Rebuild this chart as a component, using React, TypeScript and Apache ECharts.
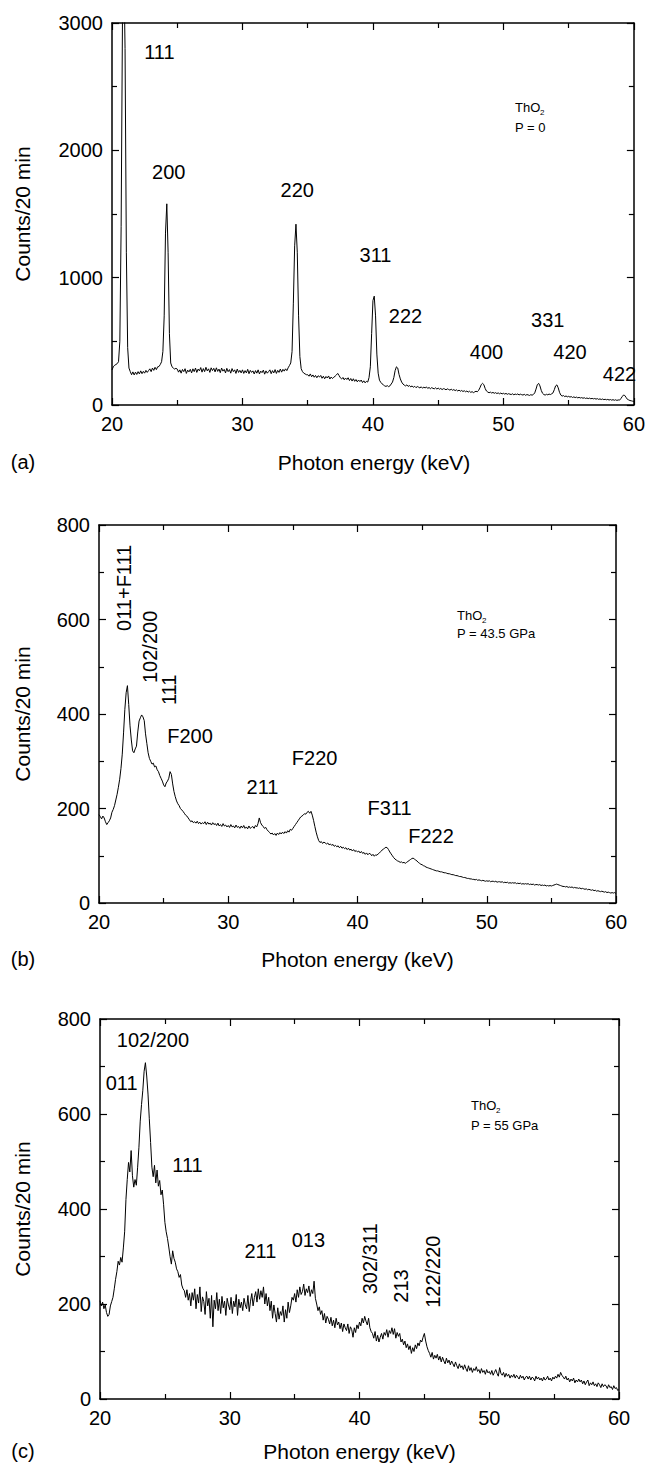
import React, { useEffect, useRef } from "react";
import * as echarts from "echarts";

const X_START = 20;
const X_STEP = 0.1;

// Panel (a): ThO2, P = 0 — counts every 0.1 keV from 20 to 60 keV
const countsA = [
  275, 300, 312, 318, 325, 340, 500, 1400, 3000, 3500,
  2800, 1200, 450, 290, 262, 238, 260, 236, 258, 240,
  262, 244, 268, 246, 264, 250, 272, 256, 270, 284,
  262, 290, 272, 296, 278, 300, 302, 318, 340, 420,
  700, 1350, 1580, 1200, 560, 330, 300, 290, 282, 288,
  282, 258, 276, 250, 279, 262, 285, 248, 274, 260,
  280, 252, 284, 262, 290, 256, 282, 268, 294, 258,
  286, 262, 296, 268, 284, 256, 292, 270, 288, 260,
  292, 264, 282, 254, 290, 266, 280, 252, 288, 262,
  278, 250, 286, 262, 276, 248, 282, 256, 272, 252,
  276, 248, 270, 252, 280, 246, 272, 256, 268, 244,
  270, 250, 276, 244, 266, 254, 274, 242, 268, 250,
  262, 276, 246, 270, 252, 278, 248, 272, 256, 282,
  258, 280, 266, 284, 270, 292, 310, 330, 420, 800,
  1250, 1420, 1200, 700, 380, 285, 262, 250, 244, 238,
  238, 226, 244, 222, 236, 218, 232, 214, 230, 220,
  232, 210, 226, 206, 224, 212, 228, 204, 220, 208,
  218, 226, 236, 248, 232, 214, 204, 216, 198, 212,
  200, 214, 192, 208, 188, 206, 186, 200, 182, 196,
  184, 196, 176, 190, 174, 186, 180, 215, 300, 560,
  820, 855, 700, 400, 250, 195, 178, 166, 158, 150,
  146, 152, 144, 150, 165, 180, 215, 270, 300, 290,
  240, 205, 180, 165, 156, 150, 158, 146, 153, 142,
  150, 139, 147, 136, 145, 140, 134, 143, 132, 140,
  134, 142, 130, 138, 128, 136, 131, 127, 135, 125,
  133, 124, 130, 121, 128, 126, 119, 127, 122, 117,
  124, 116, 121, 113, 119, 110, 117, 108, 114, 106,
  112, 104, 110, 101, 108, 99, 105, 97, 103, 108,
  104, 115, 135, 160, 170, 160, 130, 110, 102, 96,
  101, 94, 99, 92, 97, 90, 95, 88, 94, 87,
  92, 86, 91, 84, 89, 85, 82, 88, 80, 86,
  82, 87, 79, 85, 81, 78, 84, 76, 82, 79,
  75, 81, 77, 83, 95, 125, 160, 170, 150, 115,
  92, 82, 78, 84, 80, 86, 82, 88, 95, 120,
  150, 158, 135, 100, 78, 70, 74, 66, 71, 64,
  68, 62, 66, 59, 64, 58, 62, 56, 60, 55,
  58, 53, 57, 51, 55, 50, 54, 49, 52, 48,
  51, 46, 50, 44, 48, 43, 47, 42, 45, 41,
  44, 39, 43, 38, 42, 37, 41, 36, 40, 38,
  50, 65, 78, 75, 60, 45, 40, 35, 33, 30,
  28,
];

// Panel (b): ThO2, P = 43.5 GPa
const countsB = [
  187, 183, 178, 184, 180, 172, 166, 170, 174, 180,
  192, 198, 206, 218, 230, 245, 262, 285, 315, 360,
  410, 445, 460, 420, 375, 345, 322, 318, 326, 332,
  362, 385, 392, 398, 394, 386, 358, 338, 318, 306,
  300, 294, 296, 288, 290, 282, 278, 270, 264, 258,
  250, 246, 254, 258, 264, 278, 272, 252, 236, 225,
  216, 210, 206, 200, 197, 194, 190, 186, 184, 180,
  176, 172, 174, 170, 172, 169, 173, 168, 171, 167,
  170, 168, 172, 166, 171, 167, 169, 165, 170, 166,
  168, 164, 169, 163, 166, 162, 168, 163, 165, 161,
  164, 160, 166, 161, 163, 159, 165, 160, 162, 158,
  163, 159, 164, 158, 161, 157, 163, 158, 160, 162,
  158, 164, 161, 168, 180, 170, 165, 162, 158, 160,
  155, 152, 149, 146, 148, 144, 147, 143, 148, 145,
  149, 146, 150, 147, 151, 148, 153, 150, 156, 154,
  158, 162, 166, 170, 174, 178, 182, 184, 186, 189,
  188, 192, 194, 190, 194, 186, 175, 162, 150, 140,
  132, 128, 130, 126, 129, 127, 125, 127, 123, 125,
  122, 124, 120, 122, 119, 121, 117, 120, 116, 118,
  115, 117, 113, 116, 112, 114, 110, 113, 109, 111,
  108, 110, 106, 109, 105, 107, 103, 106, 102, 105,
  104, 100, 103, 99, 102, 101, 104, 106, 109, 112,
  114, 116, 118, 117, 113, 108, 104, 100, 96, 93,
  91, 89, 88, 86, 87, 85, 86, 84, 86, 88,
  90, 92, 94, 95, 93, 91, 89, 86, 84, 82,
  81, 79, 78, 76, 75, 74, 73, 72, 71, 70,
  69, 68, 68, 67, 66, 66, 65, 64, 64, 63,
  62, 62, 61, 60, 60, 59, 58, 58, 57, 56,
  56, 55, 54, 54, 53, 52, 52, 51, 51, 50,
  50, 49, 50, 48, 49, 48, 47, 48, 47, 46,
  47, 46, 47, 45, 46, 46, 45, 46, 44, 45,
  45, 44, 45, 43, 44, 43, 44, 42, 43, 42,
  43, 42, 43, 41, 42, 41, 42, 40, 41, 40,
  41, 40, 41, 39, 40, 39, 40, 38, 39, 39,
  38, 39, 37, 38, 37, 38, 36, 37, 36, 37,
  36, 37, 38, 39, 40, 39, 38, 37, 36, 35,
  35, 34, 35, 33, 34, 33, 34, 32, 33, 32,
  32, 31, 32, 30, 31, 30, 29, 30, 28, 29,
  28, 27, 28, 26, 27, 25, 26, 25, 24, 25,
  24, 23, 24, 22, 23, 22, 21, 22, 21, 22,
  20,
];

// Panel (c): ThO2, P = 55 GPa
const countsC = [
  207, 196, 204, 190, 198, 182, 174, 178, 196, 205,
  214, 232, 252, 268, 290, 282, 298, 288, 318, 352,
  420, 462, 498, 478, 523, 470, 446, 462, 450, 488,
  530, 585, 620, 650, 690, 708, 680, 642, 590, 540,
  488, 468, 492, 455, 482, 448, 460, 430, 440, 410,
  372, 352, 338, 320, 300, 284, 312, 296, 288, 274,
  268, 256, 262, 240, 232, 228, 214, 230, 208, 222,
  196, 224, 208, 232, 190, 220, 202, 236, 184, 215,
  205, 178, 226, 196, 212, 170, 218, 152, 208, 190,
  224, 186, 210, 180, 216, 192, 206, 176, 212, 198,
  188, 214, 180, 206, 194, 220, 176, 210, 192, 204,
  186, 212, 198, 190, 218, 184, 206, 222, 196, 214,
  226, 204, 232, 210, 228, 214, 236, 200, 222, 196,
  214, 186, 206, 170, 198, 180, 162, 192, 168, 184,
  176, 196, 162, 188, 170, 204, 182, 196, 214, 208,
  222, 204, 230, 214, 236, 220, 226, 242, 218, 232,
  224, 238, 216, 230, 222, 248, 212, 200, 186, 194,
  178, 186, 166, 180, 160, 174, 168, 158, 172, 154,
  166, 150, 170, 156, 162, 148, 160, 142, 158, 150,
  144, 158, 138, 152, 146, 130, 150, 140, 156, 148,
  162, 154, 170, 160, 174, 164, 156, 170, 150, 142,
  138, 128, 142, 122, 134, 120, 130, 138, 126, 140,
  134, 146, 130, 144, 138, 150, 136, 148, 128, 140,
  132, 138, 120, 126, 114, 122, 108, 116, 104, 112,
  96, 108, 100, 114, 106, 118, 112, 124, 120, 130,
  138, 122, 110, 102, 96, 88, 98, 84, 92, 86,
  94, 82, 90, 78, 88, 80, 74, 86, 76, 82,
  72, 80, 74, 68, 78, 70, 64, 74, 66, 70,
  62, 72, 64, 58, 70, 60, 66, 56, 64, 60,
  68, 58, 62, 54, 64, 56, 60, 52, 62, 55,
  58, 52, 60, 50, 56, 62, 54, 48, 66, 54,
  50, 56, 46, 54, 48, 52, 44, 50, 46, 52,
  44, 50, 46, 42, 50, 44, 48, 40, 46, 48,
  42, 48, 40, 46, 44, 38, 48, 42, 46, 40,
  44, 38, 46, 40, 42, 48, 40, 44, 38, 46,
  42, 48, 44, 52, 46, 56, 50, 46, 42, 48,
  40, 44, 36, 42, 38, 44, 34, 40, 36, 42,
  36, 40, 32, 38, 30, 36, 40, 28, 34, 30,
  36, 28, 32, 26, 34, 30, 24, 32, 26, 30,
  28, 22, 30, 24, 26, 20, 28, 22, 24, 18,
  20,
];

// Peak labels: [energy keV, counts, text, rotation deg]
const labelsA: [number, number, string, number][] = [
  [23.63, 2775, "111", 0],
  [24.35, 1830, "200", 0],
  [34.2, 1688, "220", 0],
  [40.2, 1178, "311", 0],
  [42.5, 699, "222", 0],
  [48.7, 416, "400", 0],
  [53.4, 667, "331", 0],
  [55.1, 416, "420", 0],
  [58.9, 243, "422", 0],
];
const labelsB: [number, number, string, number][] = [
  [21.93, 667, "011+F111", 90],
  [23.95, 542, "102/200", 90],
  [25.4, 451, "111", 90],
  [27.04, 353, "F200", 0],
  [32.65, 245, "211", 0],
  [36.68, 307, "F220", 0],
  [42.48, 201, "F311", 0],
  [45.69, 142, "F222", 0],
];
const labelsC: [number, number, string, number][] = [
  [24.08, 756, "102/200", 0],
  [21.67, 665, "011", 0],
  [26.74, 493, "111", 0],
  [32.36, 312, "211", 0],
  [36.06, 335, "013", 0],
  [40.81, 295, "302/311", 90],
  [43.2, 238, "213", 90],
  [45.69, 268, "122/220", 90],
];

const panelLetters = ["(a)", "(b)", "(c)"];
const pressures = ["P = 0", "P = 43.5 GPa", "P = 55 GPa"];
const yMaxes = [3000, 800, 800];
const yIntervals = [1000, 200, 200];
const X_MIN = 20;
const X_MAX = 60;
const X_INTERVAL = 10;
const X_TITLE = "Photon energy (keV)";
const Y_TITLE = "Counts/20 min";

// layout (pixels)
const grids = [
  { left: 112, top: 23, width: 524, height: 382 },
  { left: 99, top: 525, width: 517, height: 378 },
  { left: 100, top: 1019, width: 519, height: 380 },
];
const titleOffsets = [57, 56, 52];
const sampleAnno = [
  { x: 515, y1: 107, y2: 127 },
  { x: 457, y1: 615, y2: 633 },
  { x: 471, y1: 1105, y2: 1125 },
];

const FONT = '"Liberation Sans", Arial, Helvetica, sans-serif';

const toPairs = (arr: number[]) =>
  arr.map((v, i) => [Number((X_START + i * X_STEP).toFixed(2)), v]);

export default function App() {
  const ref = useRef<HTMLDivElement>(null);

  useEffect(() => {
    if (!ref.current) return;
    const chart = echarts.init(ref.current, undefined, { renderer: "svg" });
    const counts = [countsA, countsB, countsC];
    const labels = [labelsA, labelsB, labelsC];

    const tickLine = { color: "#000", width: 1.2 };
    const axisLine = { show: true, onZero: false, lineStyle: { color: "#000", width: 1.5 } };

    const xAxis: any[] = [];
    const yAxis: any[] = [];
    const series: any[] = [];
    const graphic: any[] = [];

    grids.forEach((g, gi) => {
      [false, true].forEach((isTop) => {
        xAxis.push({
          type: "value",
          gridIndex: gi,
          position: isTop ? "top" : "bottom",
          min: X_MIN,
          max: X_MAX,
          interval: X_INTERVAL,
          axisLine,
          axisTick: { show: true, inside: true, length: 7, lineStyle: tickLine },
          minorTick: { show: true, splitNumber: 2, length: 5, lineStyle: tickLine },
          splitLine: { show: false },
          minorSplitLine: { show: false },
          axisLabel: {
            show: !isTop,
            color: "#000",
            fontSize: 20,
            fontFamily: FONT,
            margin: 9,
            formatter: (v: number) => String(v),
          },
        });
        yAxis.push({
          type: "value",
          gridIndex: gi,
          position: isTop ? "right" : "left",
          min: 0,
          max: yMaxes[gi],
          interval: yIntervals[gi],
          axisLine,
          axisTick: { show: true, inside: true, length: 7, lineStyle: tickLine },
          minorTick: { show: true, splitNumber: 2, length: 5, lineStyle: tickLine },
          splitLine: { show: false },
          minorSplitLine: { show: false },
          axisLabel: {
            show: !isTop,
            color: "#000",
            fontSize: 20,
            fontFamily: FONT,
            margin: 9,
            formatter: (v: number) => String(v),
          },
        });
      });

      series.push({
        type: "line",
        xAxisIndex: gi * 2,
        yAxisIndex: gi * 2,
        data: toPairs(counts[gi]),
        showSymbol: false,
        symbol: "none",
        clip: true,
        lineStyle: { color: "#000", width: 1 },
        silent: true,
      });

      series.push({
        type: "scatter",
        xAxisIndex: gi * 2,
        yAxisIndex: gi * 2,
        symbolSize: 1,
        itemStyle: { color: "rgba(255,255,255,0)" },
        silent: true,
        clip: false,
        data: labels[gi].map(([x, y, t, r]) => ({
          value: [x, y],
          label: {
            show: true,
            formatter: t,
            rotate: r,
            position: "inside",
            align: "center",
            verticalAlign: "middle",
            color: "#000",
            opacity: 1,
            textBorderWidth: 0,
            textBorderColor: "transparent",
            fontSize: 20,
            fontFamily: FONT,
          },
        })),
      });

      const cx = g.left + g.width / 2;
      const cy = g.top + g.height / 2;
      const bottom = g.top + g.height;

      graphic.push({
        type: "text",
        x: 22,
        y: cy,
        rotation: Math.PI / 2,
        style: {
          text: Y_TITLE,
          fontSize: 21,
          fontFamily: FONT,
          fill: "#000",
          align: "center",
          verticalAlign: "middle",
        },
      });
      graphic.push({
        type: "text",
        x: cx,
        y: bottom + titleOffsets[gi],
        style: {
          text: X_TITLE,
          fontSize: 21,
          fontFamily: FONT,
          fill: "#000",
          align: "center",
          verticalAlign: "middle",
        },
      });
      graphic.push({
        type: "text",
        x: 23,
        y: bottom + titleOffsets[gi],
        style: {
          text: panelLetters[gi],
          fontSize: 20,
          fontFamily: FONT,
          fill: "#000",
          align: "center",
          verticalAlign: "middle",
        },
      });
      const a = sampleAnno[gi];
      graphic.push({
        type: "text",
        x: a.x,
        y: a.y1,
        style: {
          text: "ThO",
          fontSize: 13,
          fontFamily: FONT,
          fill: "#000",
          align: "left",
          verticalAlign: "middle",
        },
      });
      graphic.push({
        type: "text",
        x: a.x + 25,
        y: a.y1 + 5,
        style: {
          text: "2",
          fontSize: 8,
          fontFamily: FONT,
          fill: "#000",
          align: "left",
          verticalAlign: "middle",
        },
      });
      graphic.push({
        type: "text",
        x: a.x,
        y: a.y2,
        style: {
          text: pressures[gi],
          fontSize: 13,
          fontFamily: FONT,
          fill: "#000",
          align: "left",
          verticalAlign: "middle",
        },
      });
    });

    chart.setOption({
      animation: false,
      backgroundColor: "#fff",
      textStyle: { fontFamily: FONT },
      grid: grids.map((g) => ({ ...g, containLabel: false })),
      xAxis,
      yAxis,
      series,
      graphic,
    });

    return () => chart.dispose();
  }, []);

  return (
    <div
      ref={ref}
      style={{ position: "absolute", left: 0, top: 0, width: 648, height: 1463 }}
    />
  );
}
